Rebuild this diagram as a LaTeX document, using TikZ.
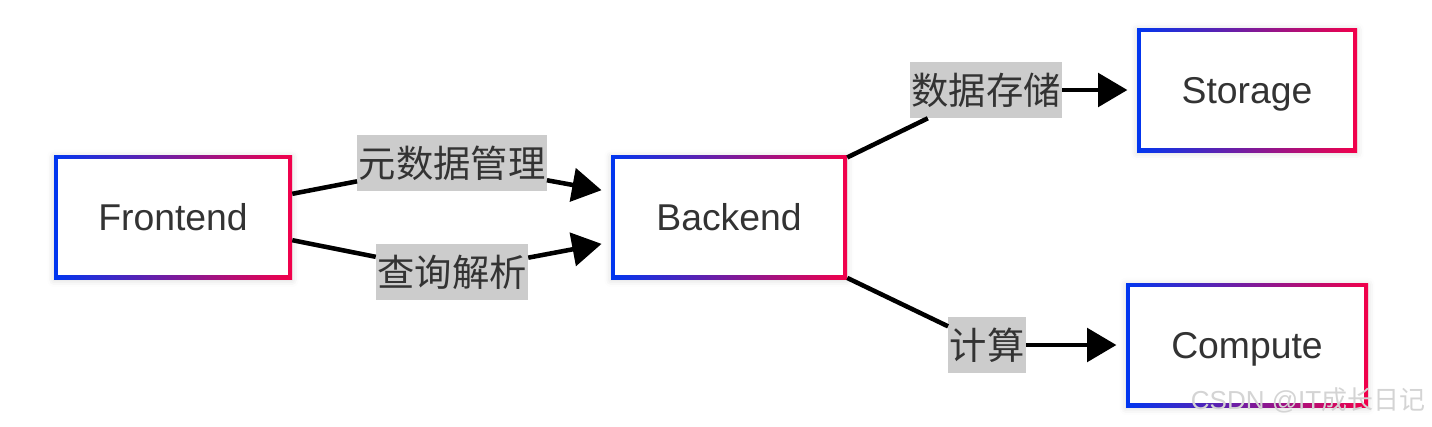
\documentclass[tikz,border=0pt]{standalone}
\usepackage{fontspec}
\setmainfont{Liberation Sans}
\newfontfamily\cjk{Noto Sans CJK SC}
\usetikzlibrary{arrows.meta,shadows.blur}
\definecolor{ink}{HTML}{333333}
\definecolor{edgeblue}{HTML}{0036F0}
\definecolor{edgered}{HTML}{F2004A}
\definecolor{tag}{HTML}{CCCCCC}
\definecolor{wmgray}{HTML}{D4D4D4}
\tikzset{
  font=\fontsize{28}{34}\selectfont,
  >={Triangle[length=22pt,width=25pt]},
  %% nodes
  box/.style   = {minimum height=93pt, inner sep=0pt, text=ink,
                  text height=20.5pt, text depth=0pt,
                  left color=edgeblue, right color=edgered,
                  path picture={\fill[white]
                    ([shift={(3pt,3pt)}]path picture bounding box.south west) rectangle
                    ([shift={(-3pt,-3pt)}]path picture bounding box.north east);},
                  blur shadow={shadow xshift=0pt, shadow yshift=-1pt,
                               shadow blur radius=5pt, shadow opacity=15}},
  lbl/.style   = {fill=tag, text=ink, inner xsep=1pt, inner ysep=0pt,
                  minimum height=42pt, font=\cjk\fontsize{28}{34}\selectfont},
  %% arrows
  link/.style  = {draw=black, line width=3.4pt},
  flow/.style  = {->, draw=black, line width=3.4pt, shorten >=7pt},
}
\begin{document}
\begin{tikzpicture}[x=0.75pt, y=-0.75pt]
\useasboundingbox (0,0) rectangle (1432,426);

%% ============ boxes ============
\node[box, minimum width=178.5pt] (front) at (173,217) {Frontend};
\node[box, minimum width=177pt]   (back)  at (729,217) {Backend};
\node[box, minimum width=165pt]   (store) at (1247,90) {Storage};
\node[box, minimum width=181.5pt] (comp)  at (1247,345) {Compute};

%% ============ edge labels ============
\node[lbl] (Lmeta)  at (452,163) {元数据管理};
\node[lbl] (Lquery) at (452,272) {查询解析};
\node[lbl] (Lstore) at (986,90)  {数据存储};
\node[lbl] (Lcomp)  at (987,345) {计算};

%% ============ edges ============
\draw[link] (front.11) -- (Lmeta);
\draw[flow] (Lmeta) -- (back.168);
\draw[link] (front.-11) -- (Lquery);
\draw[flow] (Lquery) -- (back.192);
\draw[link] ([yshift=-2pt]back.north east) -- (Lstore);
\draw[flow] (Lstore) -- (store);
\draw[link] ([yshift=1pt]back.south east) -- (Lcomp);
\draw[flow] (Lcomp) -- (comp);

%% watermark
\node[text=wmgray, font=\fontsize{19.5}{22}\selectfont, anchor=east] (wm) at (1430,400) {CSDN @IT{\cjk 成长日记}};
\end{tikzpicture}
\end{document}
